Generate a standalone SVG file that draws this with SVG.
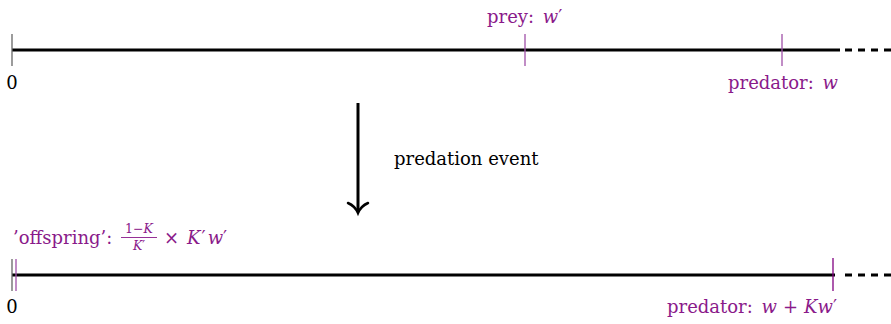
<svg xmlns="http://www.w3.org/2000/svg" width="891" height="324" viewBox="0 0 891 324">
<style>
text{font-family:"DejaVu Serif","Liberation Serif",serif;font-size:18px;fill:#000}
.p{fill:#8a1a8a}
.i{font-style:italic}
.axis{stroke:#000;stroke-width:3;fill:none}
.dash{stroke:#000;stroke-width:3;stroke-dasharray:7,6;fill:none}
.tg{stroke:#666;stroke-width:1.3}
.tp{stroke:#a050a8;stroke-width:1.3}
.tpd{stroke:#800080;stroke-width:1.3}
.s{font-size:12.5px}
</style>
<g id="connectors">
<line class="axis" x1="12" y1="50" x2="840" y2="50"/>
<line class="dash" x1="845" y1="50" x2="891" y2="50"/>
<line class="axis" x1="12" y1="275" x2="835" y2="275"/>
<line class="dash" x1="845" y1="275" x2="891" y2="275"/>
<line stroke="#000" stroke-width="3" x1="358" y1="103" x2="358" y2="212"/>
<path d="M348,203 Q355,206 358,213 Q361,206 368,203" stroke="#000" stroke-width="2.5" fill="none" stroke-linecap="round"/>
</g>
<g id="top-origin">
<line class="tg" x1="12" y1="34" x2="12" y2="66"/>
<text x="12" y="89" text-anchor="middle">0</text>
</g>
<g id="prey">
<line class="tp" x1="525" y1="34" x2="525" y2="66"/>
<text class="p" x="487" y="23">prey: <tspan class="i" dx="3">w</tspan>′</text>
</g>
<g id="predator-top">
<line class="tp" x1="782" y1="34" x2="782" y2="66"/>
<text class="p" x="728" y="89">predator: <tspan class="i" dx="3">w</tspan></text>
</g>
<g id="event">
<text x="394" y="165">predation event</text>
</g>
<g id="bottom-origin">
<line class="tg" x1="12" y1="259" x2="12" y2="291"/>
<line class="tp" x1="16" y1="259" x2="16" y2="291"/>
<text x="12" y="313" text-anchor="middle">0</text>
</g>
<g id="offspring">
<text class="p" x="13" y="244">’offspring’:</text>
<text class="p s" x="139" y="233" text-anchor="middle">1−<tspan class="i">K</tspan></text>
<line x1="121" y1="237.5" x2="157" y2="237.5" stroke="#8a1a8a" stroke-width="0.9"/>
<text class="p s" x="139" y="250" text-anchor="middle"><tspan class="i">K</tspan>′</text>
<text class="p" x="164" y="244">×<tspan class="i" dx="8">K</tspan><tspan dx="1">′</tspan><tspan class="i" dx="2">w</tspan>′</text>
</g>
<g id="predator-bottom">
<line class="tpd" x1="833" y1="258" x2="833" y2="291"/>
<text class="p" x="667" y="313">predator: <tspan class="i" dx="3">w</tspan><tspan dx="6">+</tspan><tspan class="i" dx="6">Kw</tspan>′</text>
</g>
</svg>
